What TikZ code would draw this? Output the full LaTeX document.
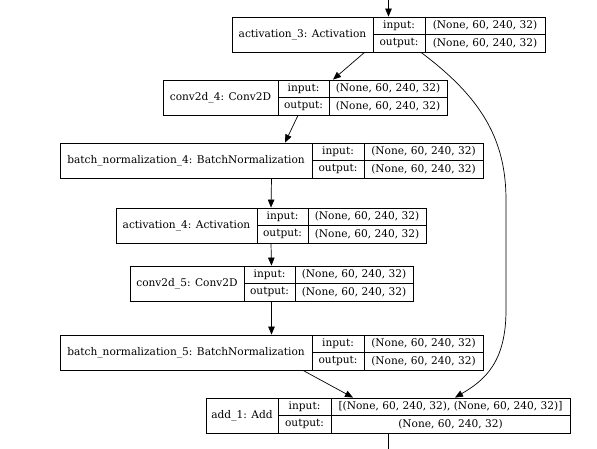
\documentclass[tikz,border=0pt]{standalone}
\usepackage{fontspec}
\setmainfont{DejaVu Serif}
\usetikzlibrary{arrows.meta,fit}
\tikzset{
  kbox/.style={draw, inner sep=0pt, line width=0.8pt},
  kline/.style={line width=0.8pt},
  ktxt/.style={inner sep=0pt, font=\fontsize{10.6}{12}\selectfont},
  arr/.style={line width=0.7pt, -{Triangle[length=8pt,width=6.5pt]}},
  conn/.style={line width=0.7pt}
}
\newcommand\kerasbox[9]{%
  \node[kbox, fit={(#2,#6) (#5,#7)}] (#1) {};
  \draw[kline] (#3,#6) -- (#3,#7) (#4,#6) -- (#4,#7) (#3,{(#6+#7)/2}) -- (#5,{(#6+#7)/2});
  \node[ktxt] (#1-l) at ({(#2+#3)/2},{(#6+#7)/2}) {#8};
  \node[ktxt] (#1-ik) at ({(#3+#4)/2},{(3*#6+#7)/4}) {input:};
  \node[ktxt] (#1-ok) at ({(#3+#4)/2},{(#6+3*#7)/4}) {output:};
  \node[ktxt] (#1-iv) at ({(#4+#5)/2},{(3*#6+#7)/4}) {#9};
  \node[ktxt] (#1-ov) at ({(#4+#5)/2},{(#6+3*#7)/4}) {(None, 60, 240, 32)};
}
\begin{document}
\begin{tikzpicture}[x=1pt,y=-1pt]
\useasboundingbox[fill=white] (0,0) rectangle (597,449);
\kerasbox{act3}{232}{373}{425}{545}{17}{52}{activation\_3: Activation}{(None, 60, 240, 32)}
\kerasbox{conv4}{163}{278}{329}{447}{80}{115}{conv2d\_4: Conv2D}{(None, 60, 240, 32)}
\kerasbox{bn4}{60}{312}{364}{483}{143}{178}{batch\_normalization\_4: BatchNormalization}{(None, 60, 240, 32)}
\kerasbox{act4}{116}{257}{308}{426}{208}{243}{activation\_4: Activation}{(None, 60, 240, 32)}
\kerasbox{conv5}{130}{244}{295}{413}{266}{301}{conv2d\_5: Conv2D}{(None, 60, 240, 32)}
\kerasbox{bn5}{60}{312}{364}{483}{335}{370}{batch\_normalization\_5: BatchNormalization}{(None, 60, 240, 32)}
\kerasbox{add}{206}{278}{331}{570}{398}{433}{add\_1: Add}{[(None, 60, 240, 32), (None, 60, 240, 32)]}
\coordinate (in) at (388.5,0);
\coordinate (out) at (388,449);
\draw[arr] (in) -- (act3.north);
\draw[arr] ([xshift=-24pt]act3.south) -- ([xshift=28pt]conv4.north);
\draw[arr] ([xshift=-7pt]conv4.south) -- ([xshift=13.5pt]bn4.north);
\draw[arr] (bn4.south) -- (act4.north);
\draw[arr] (act4.south) -- (conv5.north);
\draw[arr] (conv5.south) -- (bn5.north);
\draw[arr] ([xshift=31.5pt]bn5.south) -- ([xshift=-35pt]add.north);
\draw[arr] ([xshift=32.5pt]act3.south) .. controls (482,98) and (506,140) .. (506,200) -- (506,310) .. controls (506,362) and (485,380) .. ([xshift=67pt]add.north);
\draw[conn] (add.south) -- (out);
\end{tikzpicture}
\end{document}
